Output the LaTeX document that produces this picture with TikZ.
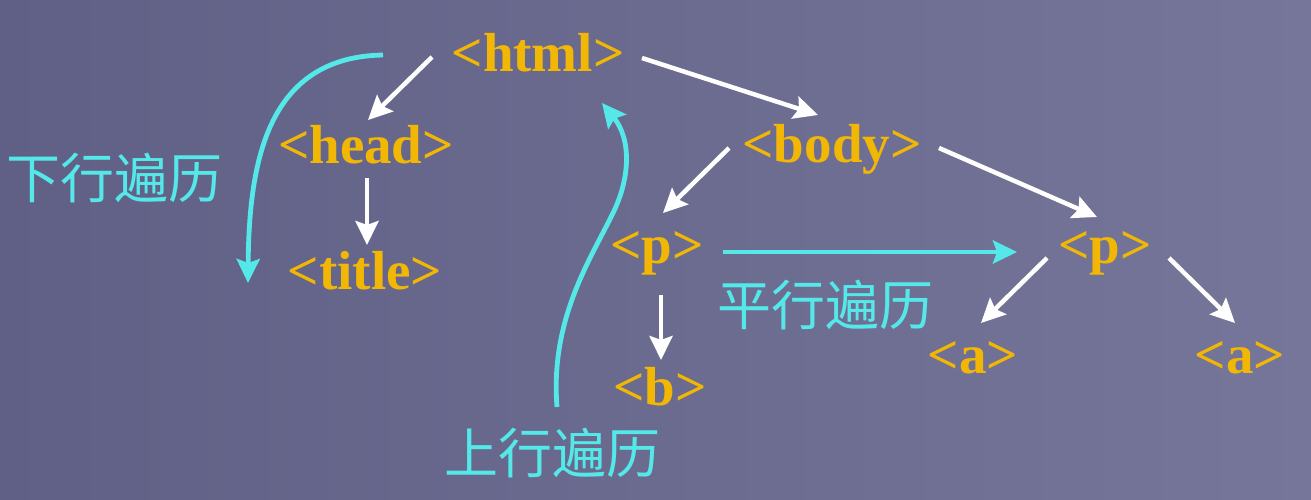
\documentclass[tikz,border=0pt]{standalone}
\usepackage{fontspec}
\setmainfont{Liberation Serif}
\newfontfamily\cjk{Noto Sans CJK SC}
\usetikzlibrary{arrows.meta}
\definecolor{bgL}{HTML}{606086}
\definecolor{bgR}{HTML}{76769A}
\definecolor{gold}{HTML}{F2B705}
\definecolor{cyanA}{HTML}{55E8E8}
\tikzset{
  tag/.style={anchor=base, inner sep=0pt, text=gold, font=\fontsize{55}{60}\selectfont\bfseries},
  zh/.style={anchor=center, inner sep=0pt, text=cyanA, font=\cjk\fontsize{54}{60}\selectfont},
  warr/.style={draw=white, line width=4.5pt, -{Stealth[length=24pt,width=23pt,inset=4pt]}},
  carr/.style={draw=cyanA, line width=4.8pt, -{Stealth[length=24pt,width=23pt,inset=4pt]}}
}
\begin{document}
\begin{tikzpicture}[x=1pt,y=-1pt]
\useasboundingbox (0,0) rectangle (1311,500);
\shade[left color=bgL, right color=bgR] (0,0) rectangle (1311,500);

\node[tag] (html)  at (538,72)  {<html>};
\node[tag] (head)  at (366,163) {<head>};
\node[tag] (title) at (365,289) {<title>};
\node[tag] (body)  at (832,162) {<body>};
\node[tag] (p1)    at (657,263) {<p>};
\node[tag] (b)     at (660,405) {<b>};
\node[tag] (p2)    at (1105,263) {<p>};
\node[tag] (a1)    at (973,373) {<a>};
\node[tag] (a2)    at (1240,373) {<a>};

\node[zh] (down) at (114,178) {下行遍历};
\node[zh] (up)   at (552,453) {上行遍历};
\node[zh] (par)  at (825,305) {平行遍历};

% tree edges
\draw[warr] ([shift={(-106,-15)}]html.base) -- ([shift={(2,-43)}]head.base);
\draw[warr] ([shift={(104,-14)}]html.base) -- ([shift={(-14,-47)}]body.base);
\draw[warr] ([shift={(1,15)}]head.base) -- ([shift={(2,-44)}]title.base);
\draw[warr] ([shift={(-103,-14)}]body.base) -- ([shift={(6,-50)}]p1.base);
\draw[warr] ([shift={(107,-14)}]body.base) -- ([shift={(-8,-46)}]p2.base);
\draw[warr] ([shift={(4,32)}]p1.base) -- ([shift={(1,-45)}]b.base);
\draw[warr] ([shift={(-58,-5)}]p2.base) -- ([shift={(8,-50)}]a1.base);
\draw[warr] ([shift={(64,-5)}]p2.base) -- ([shift={(-5,-50)}]a2.base);

% traversal arrows
\draw[carr] ([shift={(-155,-17)}]html.base) .. controls (268,57) and (249,160) .. ([shift={(-117,-6)}]title.base);
\draw[carr] ([shift={(5,-46)}]up.center) .. controls (550,320) and (590,260) .. (612,215) .. controls (630,180) and (632,140) .. ([shift={(64,31)}]html.base);
\draw[carr] ([shift={(66,-11)}]p1.base) -- ([shift={(-88,-11)}]p2.base);
\end{tikzpicture}
\end{document}
